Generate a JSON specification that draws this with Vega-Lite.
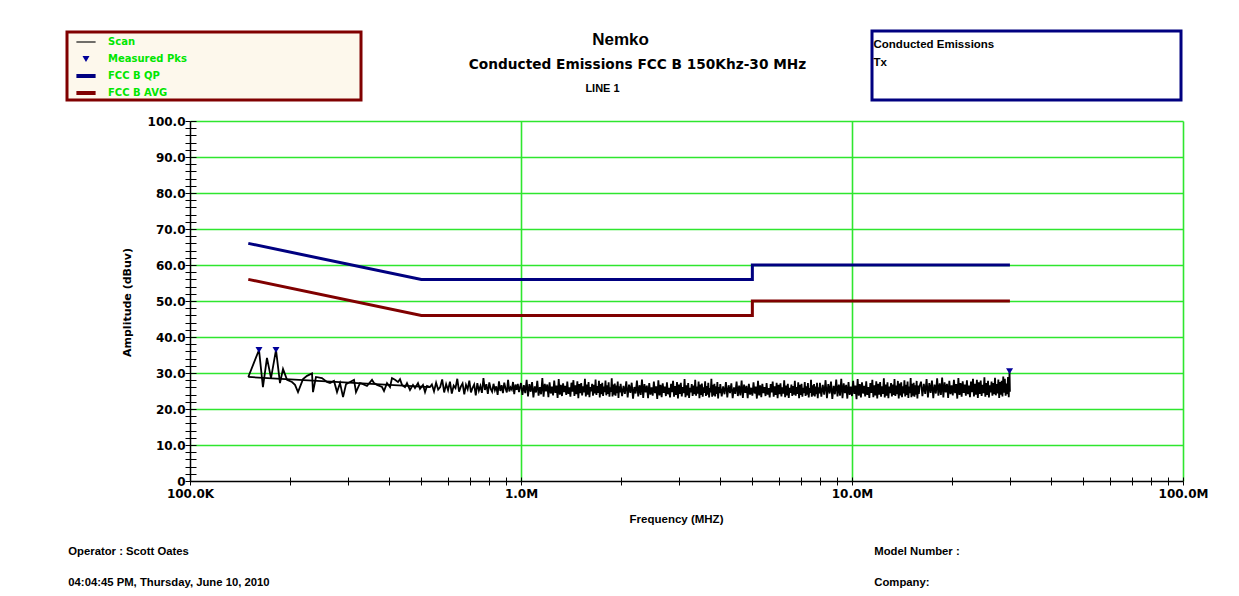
{
"$schema": "https://vega.github.io/schema/vega-lite/v6.json",
"width": 993,
"height": 360,
"autosize": {"type": "none"},
"padding": {"left": 190, "top": 121, "right": 56, "bottom": 115},
"background": "white",
"config": {
  "font": "Liberation Sans",
  "view": {"stroke": null},
  "axis": {"labelFont": "DejaVu Sans", "titleFont": "Liberation Sans", "labelColor": "black", "titleColor": "black", "tickColor": "black", "domainColor": "black", "grid": false, "gridColor": "#2ee62e", "gridOpacity": 1},
  "legend": {"labelFont": "Liberation Sans", "titleFont": "Liberation Sans", "strokeWidth": 3, "labelLimit": 0}
},
"resolve": {"axis": {"x": "independent", "y": "independent"}},
"layer": [
{
  "data": {"values": "s,f,a\nb,0.15,28.9\nb,0.531,26.1\nt,0.150,28.9\nt,0.1616,36.4\nt,0.1661,26.1\nt,0.1708,34.2\nt,0.1757,28.6\nt,0.1819,36.4\nt,0.1870,27.2\nt,0.1910,31.1\nt,0.1964,28.1\nt,0.2033,27.5\nt,0.2076,26.7\nt,0.2120,24.7\nt,0.2195,28.3\nt,0.2257,29.2\nt,0.2337,29.9\nt,0.2353,24.7\nt,0.2402,28.9\nt,0.2504,28.6\nt,0.2593,27.5\nt,0.2648,27.2\nt,0.2723,27.8\nt,0.2781,24.7\nt,0.2840,27.2\nt,0.2900,23.3\nt,0.2961,26.9\nt,0.3044,27.5\nt,0.3130,28.1\nt,0.3173,24.7\nt,0.3263,27.2\nt,0.3332,26.9\nt,0.3425,26.4\nt,0.3547,28.1\nt,0.3596,27.2\nt,0.3673,26.7\nt,0.3803,26.1\nt,0.3856,25.0\nt,0.3937,27.2\nt,0.4020,26.1\nt,0.4076,28.6\nt,0.4162,28.1\nt,0.4250,27.5\nt,0.4310,28.3\nt,0.4370,26.7\nt,0.4462,26.1\nt,0.4524,27.2\nt,0.4620,25.3\nt,0.4717,26.7\nt,0.4783,25.8\nt,0.4884,27.2\nt,0.4953,25.6\nt,0.5057,26.7\nt,0.5129,24.7\nt,0.5200,26.4\nt,0.5310,26.1\nt,0.538,26.8\nt,0.546,24.9\nt,0.554,27.3\nt,0.562,25.4\nt,0.570,26.1\nt,0.578,28.2\nt,0.586,24.6\nt,0.594,26.9\nt,0.602,25.2\nt,0.610,27.6\nt,0.618,24.3\nt,0.626,26.5\nt,0.634,25.8\nt,0.642,28.4\nt,0.650,24.8\nt,0.658,26.2\nt,0.666,27.1\nt,0.674,24.1\nt,0.682,26.7\nt,0.690,25.5\nt,0.698,27.9\nt,0.706,24.6\nt,0.714,25.9\nt,0.722,26.8\nt,0.730,23.8\nt,0.738,27.2\nt,0.746,25.1\nt,0.754,26.4\nt,0.762,24.5\nt,0.770,28.6\nt,0.778,25.3\nt,0.786,26.9\nt,0.794,24.2\nt,0.802,27.4\nt,0.810,25.6\nt,0.818,24.8\nt,0.826,27.0\nt,0.834,25.2\nt,0.842,26.3\nt,0.850,23.9\nt,0.858,27.7\nt,0.866,25.0\nt,0.874,26.6\nt,0.882,24.4\nt,0.890,27.3\nt,0.898,25.7\nt,0.906,24.6\nt,0.914,28.1\nt,0.922,24.9\nt,0.930,26.0\nt,0.938,25.4\nt,0.946,27.5\nt,0.954,24.1\nt,0.962,26.8\nt,0.970,25.3\nt,0.978,27.0\nt,0.986,24.7\nt,0.994,26.2\nt,1.00,27.2\nt,1.01,23.9\nt,1.02,26.6\nt,1.03,24.4\nt,1.04,28.1\nt,1.05,23.5\nt,1.06,26.9\nt,1.07,24.8\nt,1.08,27.5\nt,1.09,23.2\nt,1.10,26.3\nt,1.11,24.6\nt,1.12,27.8\nt,1.13,23.7\nt,1.14,26.1\nt,1.15,24.1\nt,1.16,28.6\nt,1.17,23.4\nt,1.18,27.0\nt,1.19,24.9\nt,1.20,26.8\nt,1.21,23.3\nt,1.22,27.4\nt,1.23,24.3\nt,1.24,26.2\nt,1.25,23.8\nt,1.26,27.9\nt,1.27,24.5\nt,1.28,26.5\nt,1.29,23.1\nt,1.30,28.3\nt,1.31,24.0\nt,1.32,26.7\nt,1.33,23.6\nt,1.34,27.1\nt,1.35,24.7\nt,1.36,26.4\nt,1.37,23.9\nt,1.38,27.6\nt,1.39,24.2\nt,1.40,26.0\nt,1.41,23.4\nt,1.42,27.3\nt,1.43,24.8\nt,1.44,28.0\nt,1.45,23.6\nt,1.46,26.6\nt,1.47,24.1\nt,1.48,27.7\nt,1.49,23.0\nt,1.50,26.9\nt,1.51,24.4\nt,1.52,27.2\nt,1.53,23.8\nt,1.54,26.3\nt,1.55,24.6\nt,1.56,28.4\nt,1.57,23.5\nt,1.58,26.8\nt,1.59,24.0\nt,1.60,27.5\nt,1.61,23.3\nt,1.62,26.1\nt,1.63,24.9\nt,1.64,27.0\nt,1.65,23.7\nt,1.66,26.7\nt,1.67,24.3\nt,1.68,28.2\nt,1.69,23.9\nt,1.70,26.4\nt,1.71,24.5\nt,1.72,27.8\nt,1.73,23.2\nt,1.74,26.9\nt,1.75,24.1\nt,1.76,27.3\nt,1.77,23.6\nt,1.78,26.2\nt,1.79,24.7\nt,1.80,27.9\nt,1.81,23.8\nt,1.82,26.6\nt,1.83,24.2\nt,1.84,27.4\nt,1.85,23.4\nt,1.86,26.0\nt,1.87,24.8\nt,1.88,28.5\nt,1.89,23.5\nt,1.90,26.8\nt,1.91,24.0\nt,1.92,27.1\nt,1.93,23.7\nt,1.94,26.5\nt,1.95,24.4\nt,1.96,27.6\nt,1.97,23.1\nt,1.98,26.3\nt,1.99,24.6\nt,2.00,27.0\nt,2.02,23.6\nt,2.04,26.4\nt,2.06,24.2\nt,2.08,27.7\nt,2.10,23.2\nt,2.12,26.8\nt,2.14,24.5\nt,2.16,27.3\nt,2.18,22.9\nt,2.20,26.1\nt,2.22,24.3\nt,2.24,27.9\nt,2.26,23.5\nt,2.28,26.6\nt,2.30,23.9\nt,2.32,28.2\nt,2.34,23.1\nt,2.36,26.9\nt,2.38,24.6\nt,2.40,26.5\nt,2.42,23.0\nt,2.44,27.2\nt,2.46,24.0\nt,2.48,26.0\nt,2.50,23.7\nt,2.52,27.6\nt,2.54,24.4\nt,2.56,26.3\nt,2.58,22.8\nt,2.60,28.0\nt,2.62,23.8\nt,2.64,26.7\nt,2.66,23.3\nt,2.68,27.1\nt,2.70,24.5\nt,2.72,26.2\nt,2.74,23.6\nt,2.76,27.4\nt,2.78,24.1\nt,2.80,25.9\nt,2.82,23.2\nt,2.84,27.0\nt,2.86,24.7\nt,2.88,27.8\nt,2.90,23.4\nt,2.92,26.4\nt,2.94,23.9\nt,2.96,27.5\nt,2.98,22.9\nt,3.00,26.8\nt,3.02,24.2\nt,3.04,27.3\nt,3.06,23.5\nt,3.08,26.1\nt,3.10,24.4\nt,3.12,28.3\nt,3.14,23.3\nt,3.16,26.6\nt,3.18,23.8\nt,3.20,27.2\nt,3.22,23.1\nt,3.24,25.9\nt,3.26,24.6\nt,3.28,26.9\nt,3.30,23.6\nt,3.32,26.5\nt,3.34,24.1\nt,3.36,28.1\nt,3.38,23.7\nt,3.40,26.2\nt,3.42,24.3\nt,3.44,27.6\nt,3.46,23.0\nt,3.48,26.8\nt,3.50,23.9\nt,3.52,27.1\nt,3.54,23.4\nt,3.56,26.0\nt,3.58,24.5\nt,3.60,27.7\nt,3.62,23.6\nt,3.64,26.4\nt,3.66,24.0\nt,3.68,27.3\nt,3.70,23.2\nt,3.72,25.8\nt,3.74,24.6\nt,3.76,28.4\nt,3.78,23.4\nt,3.80,26.7\nt,3.82,23.8\nt,3.84,27.0\nt,3.86,23.5\nt,3.88,26.3\nt,3.90,24.2\nt,3.92,27.5\nt,3.94,22.9\nt,3.96,26.1\nt,3.98,24.4\nt,4.00,26.9\nt,4.04,23.5\nt,4.08,26.3\nt,4.12,24.1\nt,4.16,27.5\nt,4.20,23.2\nt,4.24,26.6\nt,4.28,24.4\nt,4.32,27.1\nt,4.36,23.0\nt,4.40,26.0\nt,4.44,24.2\nt,4.48,27.6\nt,4.52,23.6\nt,4.56,26.5\nt,4.60,23.8\nt,4.64,27.9\nt,4.68,23.1\nt,4.72,26.8\nt,4.76,24.5\nt,4.80,26.4\nt,4.84,23.0\nt,4.88,27.0\nt,4.92,24.0\nt,4.96,25.9\nt,5.00,23.7\nt,5.04,27.4\nt,5.08,24.3\nt,5.12,26.2\nt,5.16,22.9\nt,5.20,27.8\nt,5.24,23.8\nt,5.28,26.6\nt,5.32,23.3\nt,5.36,27.0\nt,5.40,24.4\nt,5.44,26.1\nt,5.48,23.6\nt,5.52,27.2\nt,5.56,24.0\nt,5.60,25.8\nt,5.64,23.2\nt,5.68,26.9\nt,5.72,24.6\nt,5.76,27.6\nt,5.80,23.4\nt,5.84,26.3\nt,5.88,23.9\nt,5.92,27.3\nt,5.96,23.0\nt,6.00,26.7\nt,6.04,24.1\nt,6.08,27.1\nt,6.12,23.5\nt,6.16,26.0\nt,6.20,24.3\nt,6.24,28.0\nt,6.28,23.3\nt,6.32,26.5\nt,6.36,23.8\nt,6.40,27.0\nt,6.44,23.1\nt,6.48,25.9\nt,6.52,24.5\nt,6.56,26.8\nt,6.60,23.6\nt,6.64,26.4\nt,6.68,24.0\nt,6.72,27.8\nt,6.76,23.7\nt,6.80,26.1\nt,6.84,24.2\nt,6.88,27.4\nt,6.92,23.0\nt,6.96,26.7\nt,7.00,23.9\nt,7.04,27.0\nt,7.08,23.4\nt,7.12,25.9\nt,7.16,24.4\nt,7.20,27.5\nt,7.24,23.6\nt,7.28,26.3\nt,7.32,24.0\nt,7.36,27.2\nt,7.40,23.2\nt,7.44,25.8\nt,7.48,24.5\nt,7.52,28.1\nt,7.56,23.4\nt,7.60,26.6\nt,7.64,23.8\nt,7.68,26.9\nt,7.72,23.5\nt,7.76,26.2\nt,7.80,24.1\nt,7.84,27.3\nt,7.88,23.0\nt,7.92,26.0\nt,7.96,24.3\nt,8.00,27.3\nt,8.08,23.4\nt,8.16,26.7\nt,8.24,24.0\nt,8.32,28.0\nt,8.40,23.0\nt,8.48,26.9\nt,8.56,24.3\nt,8.64,27.6\nt,8.72,22.8\nt,8.80,26.4\nt,8.88,24.1\nt,8.96,28.2\nt,9.04,23.5\nt,9.12,26.8\nt,9.20,23.7\nt,9.28,28.4\nt,9.36,23.0\nt,9.44,27.1\nt,9.52,24.4\nt,9.60,26.7\nt,9.68,22.9\nt,9.76,27.5\nt,9.84,23.9\nt,9.92,26.2\nt,10.00,23.6\nt,10.08,27.8\nt,10.16,24.2\nt,10.24,26.5\nt,10.32,22.7\nt,10.40,28.3\nt,10.48,23.7\nt,10.56,26.9\nt,10.64,23.2\nt,10.72,27.4\nt,10.80,24.3\nt,10.88,26.4\nt,10.96,23.5\nt,11.04,27.7\nt,11.12,23.9\nt,11.20,26.1\nt,11.28,23.1\nt,11.36,27.2\nt,11.44,24.5\nt,11.52,28.1\nt,11.60,23.3\nt,11.68,26.6\nt,11.76,23.8\nt,11.84,27.7\nt,11.92,22.9\nt,12.00,27.0\nt,12.08,24.0\nt,12.16,27.5\nt,12.24,23.4\nt,12.32,26.3\nt,12.40,24.2\nt,12.48,28.5\nt,12.56,23.2\nt,12.64,26.8\nt,12.72,23.7\nt,12.80,27.4\nt,12.88,23.0\nt,12.96,26.2\nt,13.04,24.4\nt,13.12,27.2\nt,13.20,23.5\nt,13.28,26.8\nt,13.36,23.9\nt,13.44,28.3\nt,13.52,23.6\nt,13.60,26.5\nt,13.68,24.1\nt,13.76,27.8\nt,13.84,22.9\nt,13.92,27.1\nt,14.00,23.8\nt,14.08,27.4\nt,14.16,23.3\nt,14.24,26.3\nt,14.32,24.3\nt,14.40,28.0\nt,14.48,23.5\nt,14.56,26.7\nt,14.64,23.9\nt,14.72,27.6\nt,14.80,23.1\nt,14.88,26.2\nt,14.96,24.4\nt,15.04,28.6\nt,15.12,23.3\nt,15.20,27.0\nt,15.28,23.7\nt,15.36,27.3\nt,15.44,23.4\nt,15.52,26.6\nt,15.60,24.0\nt,15.68,27.8\nt,15.76,22.9\nt,15.84,26.5\nt,15.92,24.2\nt,16.00,26.3\nt,16.16,27.6\nt,16.32,23.6\nt,16.48,27.0\nt,16.64,24.2\nt,16.80,28.3\nt,16.96,23.2\nt,17.12,27.2\nt,17.28,24.5\nt,17.44,27.9\nt,17.60,23.0\nt,17.76,26.8\nt,17.92,24.3\nt,18.08,28.5\nt,18.24,23.7\nt,18.40,27.1\nt,18.56,23.9\nt,18.72,28.7\nt,18.88,23.2\nt,19.04,27.4\nt,19.20,24.6\nt,19.36,27.0\nt,19.52,23.1\nt,19.68,27.8\nt,19.84,24.1\nt,20.00,26.6\nt,20.16,23.8\nt,20.32,28.1\nt,20.48,24.4\nt,20.64,26.9\nt,20.80,22.9\nt,20.96,28.6\nt,21.12,23.9\nt,21.28,27.2\nt,21.44,23.4\nt,21.60,27.7\nt,21.76,24.5\nt,21.92,26.8\nt,22.08,23.7\nt,22.24,28.0\nt,22.40,24.1\nt,22.56,26.5\nt,22.72,23.3\nt,22.88,27.6\nt,23.04,24.7\nt,23.20,28.4\nt,23.36,23.5\nt,23.52,27.0\nt,23.68,24.0\nt,23.84,28.1\nt,24.00,23.1\nt,24.16,27.4\nt,24.32,24.2\nt,24.48,27.9\nt,24.64,23.6\nt,24.80,26.7\nt,24.96,24.4\nt,25.12,28.8\nt,25.28,23.4\nt,25.44,27.2\nt,25.60,23.9\nt,25.76,27.8\nt,25.92,23.2\nt,26.08,26.6\nt,26.24,24.6\nt,26.40,27.6\nt,26.56,23.7\nt,26.72,27.2\nt,26.88,24.1\nt,27.04,28.7\nt,27.20,23.8\nt,27.36,26.9\nt,27.52,24.3\nt,27.68,28.2\nt,27.84,23.1\nt,28.00,27.5\nt,28.16,24.0\nt,28.32,27.8\nt,28.48,23.5\nt,28.64,29.0\nt,28.80,24.5\nt,28.96,28.4\nt,29.12,23.7\nt,29.28,27.1\nt,29.44,24.1\nt,29.60,28.9\nt,29.76,23.3\nt,29.92,30.4\nt,30.00,24.8", "format": {"type": "csv", "parse": {"f": "number", "a": "number"}}},
  "mark": {"type": "line", "color": "black", "strokeWidth": 1.8, "clip": true},
  "encoding": {
    "x": {"field": "f", "type": "quantitative", "scale": {"type": "log", "domain": [0.1, 100], "nice": false},
      "axis": {"orient": "bottom", "values": [0.1,0.2,0.3,0.4,0.5,0.6,0.7,0.8,0.9,1,2,3,4,5,6,7,8,9,10,20,30,40,50,60,70,80,90,100],
        "labelExpr": "indexof([0.1,1,10,100], datum.value) >= 0 ? (datum.value >= 1 ? format(datum.value, '.1f') + 'M' : format(datum.value * 1000, '.1f') + 'K') : ''",
        "labelFontSize": 12, "labelFontWeight": "bold", "labelPadding": 3, "labelOverlap": false, "labelFlush": false, "labelBound": false, "labelAngle": 0,
        "tickSize": 4, "tickWidth": 1, "domainWidth": 1.5, "grid": false,
        "title": "Frequency (MHZ)", "titleFontSize": 11.5, "titleFontWeight": "bold", "titleX": 486, "titleY": 38, "titleBaseline": "middle"}},
    "y": {"field": "a", "type": "quantitative", "scale": {"domain": [0, 100], "nice": false},
      "axis": {"orient": "left", "values": [0,2,4,6,8,10,12,14,16,18,20,22,24,26,28,30,32,34,36,38,40,42,44,46,48,50,52,54,56,58,60,62,64,66,68,70,72,74,76,78,80,82,84,86,88,90,92,94,96,98,100],
        "labelExpr": "datum.value % 10 == 0 ? (datum.value == 0 ? '0' : format(datum.value, '.1f')) : ''",
        "labelFontSize": 12, "labelFontWeight": "bold", "labelPadding": 0, "labelOverlap": false, "labelBound": false,
        "tickSize": 5, "tickWidth": 1, "domainWidth": 1.5, "grid": false,
        "title": "Amplitude (dBuv)", "titleFont": "DejaVu Sans", "titleFontSize": 11, "titleFontWeight": "bold", "titleX": -63, "titleY": 181, "titleBaseline": "middle"}},
    "detail": {"field": "s", "type": "nominal"}
  }
},
{
  "data": {"values": [{"f": 0.15, "a": 66, "i": 0}, {"f": 0.5, "a": 56, "i": 1}, {"f": 5, "a": 56, "i": 2}, {"f": 5, "a": 60, "i": 3}, {"f": 30, "a": 60, "i": 4}]},
  "mark": {"type": "line", "color": "#000080", "strokeWidth": 3},
  "encoding": {
    "x": {"field": "f", "type": "quantitative", "axis": {"orient": "bottom", "values": [0.1,0.2,0.3,0.4,0.5,0.6,0.7,0.8,0.9,1,2,3,4,5,6,7,8,9,10,20,30,40,50,60,70,80,90,100], "labels": false, "domain": false, "grid": false, "tickSize": -4, "tickWidth": 1, "title": null}},
    "y": {"field": "a", "type": "quantitative", "axis": {"orient": "left", "values": [0,2,4,6,8,10,12,14,16,18,20,22,24,26,28,30,32,34,36,38,40,42,44,46,48,50,52,54,56,58,60,62,64,66,68,70,72,74,76,78,80,82,84,86,88,90,92,94,96,98,100], "labels": false, "domain": false, "grid": false, "tickSize": -6, "tickWidth": 1, "title": null}},
    "order": {"field": "i", "type": "quantitative"}
  }
},
{
  "data": {"values": [{"f": 0.15, "a": 56, "i": 0}, {"f": 0.5, "a": 46, "i": 1}, {"f": 5, "a": 46, "i": 2}, {"f": 5, "a": 50, "i": 3}, {"f": 30, "a": 50, "i": 4}]},
  "mark": {"type": "line", "color": "#800000", "strokeWidth": 3},
  "encoding": {
    "x": {"field": "f", "type": "quantitative", "axis": {"orient": "top", "values": [1, 10, 100], "labels": false, "domain": false, "ticks": false, "grid": true, "gridColor": "#2ee62e", "gridWidth": 1.6, "gridOpacity": 1, "title": "Nemko", "titleFontSize": 17, "titleFontWeight": "bold", "titleX": 430, "titleY": -82, "titleBaseline": "middle"}},
    "y": {"field": "a", "type": "quantitative", "axis": {"orient": "left", "values": [10, 20, 30, 40, 50, 60, 70, 80, 90, 100], "labels": false, "domain": false, "ticks": false, "grid": true, "gridColor": "#2ee62e", "gridWidth": 1.6, "gridOpacity": 1, "title": null}},
    "order": {"field": "i", "type": "quantitative"}
  }
},
{
  "data": {"values": [{"f": 0.1616, "a": 36.4, "series": "Measured Pks"}, {"f": 0.1819, "a": 36.4, "series": "Measured Pks"}, {"f": 29.92, "a": 30.5, "series": "Measured Pks"}]},
  "mark": {"type": "point", "filled": true, "size": 256, "opacity": 1},
  "encoding": {
    "x": {"field": "f", "type": "quantitative", "axis": {"orient": "top", "labels": false, "domain": false, "ticks": false, "grid": false, "title": "Conducted Emissions FCC B 150Khz-30 MHz", "titleFont": "DejaVu Sans", "titleFontSize": 13.7, "titleFontWeight": "bold", "titleX": 447, "titleY": -57, "titleBaseline": "middle"}},
    "y": {"field": "a", "type": "quantitative", "axis": null},
    "color": {"field": "series", "type": "nominal",
      "scale": {"domain": ["Scan", "Measured Pks", "FCC B QP", "FCC B AVG"], "range": ["#000000", "#000099", "#000080", "#800000"]},
      "legend": {"orient": "none", "legendX": -123, "legendY": -89, "title": " ", "titleOrient": "right", "titlePadding": 172, "titleFontSize": 8, "fillColor": "#fdf8ec", "strokeColor": "#800000", "padding": 2, "symbolSize": 256, "symbolOffset": 9, "symbolStrokeWidth": 0, "labelOffset": 14, "labelFont": "DejaVu Sans", "labelFontSize": 10, "labelFontWeight": "bold", "labelColor": "#00e600", "rowPadding": 4}},
    "shape": {"field": "series", "type": "nominal",
      "scale": {"domain": ["Scan", "Measured Pks", "FCC B QP", "FCC B AVG"], "range": ["M-1.2,-0.07H1.2V0.07H-1.2Z", "M-0.44,-0.36H0.44L0,0.36Z", "M-1.2,-0.25H1.2V0.25H-1.2Z", "M-1.2,-0.25H1.2V0.25H-1.2Z"]},
      "legend": {"orient": "none", "legendX": -123, "legendY": -89, "title": " ", "titleOrient": "right", "titlePadding": 172, "titleFontSize": 8, "fillColor": "#fdf8ec", "strokeColor": "#800000", "padding": 2, "symbolSize": 256, "symbolOffset": 9, "symbolStrokeWidth": 0, "labelOffset": 14, "labelFont": "DejaVu Sans", "labelFontSize": 10, "labelFontWeight": "bold", "labelColor": "#00e600", "rowPadding": 4}}
  }
},
{
  "data": {"values": [
    {"info": "Conducted Emissions", "op": "Operator : Scott Oates", "mdl": "Model Number :"},
    {"info": "Tx", "op": "04:04:45 PM, Thursday, June 10, 2010", "mdl": "Company:"}]},
  "mark": {"type": "point", "opacity": 0},
  "encoding": {
    "x": {"field": "f", "type": "quantitative", "axis": {"orient": "top", "labels": false, "domain": false, "ticks": false, "grid": false, "title": "LINE 1", "titleFontSize": 11, "titleFontWeight": "bold", "titleX": 412, "titleY": -33, "titleBaseline": "middle"}},
    "y": {"field": "a", "type": "quantitative", "axis": null},
    "size": {"field": "info", "type": "nominal", "scale": {"domain": ["Conducted Emissions", "Tx"], "range": [1, 1]},
      "legend": {"orient": "none", "legendX": 682, "legendY": -90, "title": " ", "titleOrient": "right", "titlePadding": 179, "titleFontSize": 76, "fillColor": "white", "strokeColor": "#000080", "padding": 8, "symbolSize": 1, "symbolOpacity": 0, "labelOffset": -18, "labelFontSize": 11.5, "labelFontWeight": "bold", "labelColor": "black", "rowPadding": 5}},
    "strokeWidth": {"field": "op", "type": "nominal", "scale": {"domain": ["Operator : Scott Oates", "04:04:45 PM, Thursday, June 10, 2010"], "range": [1, 1]},
      "legend": {"orient": "none", "legendX": -123, "legendY": 425, "title": null, "padding": 0, "symbolSize": 1, "symbolOpacity": 0, "labelOffset": -10, "labelFontSize": 11.3, "labelFontWeight": "bold", "labelColor": "black", "rowPadding": 19}},
    "stroke": {"field": "mdl", "type": "nominal", "scale": {"domain": ["Model Number :", "Company:"], "range": ["transparent", "transparent"]},
      "legend": {"orient": "none", "legendX": 683, "legendY": 425, "title": null, "padding": 0, "symbolSize": 1, "symbolOpacity": 0, "labelOffset": -10, "labelFontSize": 11.3, "labelFontWeight": "bold", "labelColor": "black", "rowPadding": 19}}
  }
}
]
}
